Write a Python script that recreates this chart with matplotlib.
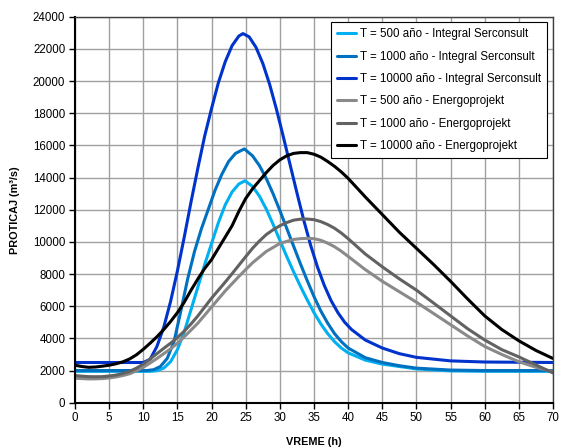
import matplotlib
matplotlib.use("Agg")
import matplotlib.pyplot as plt

plt.rcParams["font.family"] = ["Liberation Sans", "DejaVu Sans"]

# Integral Serconsult
t_is500 = [0, 11, 12, 13, 14, 15, 16, 17, 18, 19, 20, 21, 22, 23, 24, 24.9, 26, 27, 28, 29, 30, 31, 32, 33, 34, 35, 36, 37, 38, 39, 40, 42.5, 45, 47.5, 50, 55, 60, 70]
q_is500 = [1950, 1950, 1990, 2150, 2550, 3300, 4400, 5800, 7200, 8600, 9900, 11200, 12300, 13100, 13600, 13800, 13450, 12850, 12050, 11100, 10100, 9100, 8150, 7250, 6400, 5600, 4900, 4300, 3800, 3400, 3100, 2650, 2400, 2250, 2100, 1980, 1950, 1950]

t_is1000 = [0, 10.5, 11.5, 12.5, 13.5, 14.5, 15.5, 16.5, 17.5, 18.5, 19.5, 20.5, 21.5, 22.5, 23.5, 24.8, 26, 27, 28, 29, 30, 31, 32, 33, 34, 35, 36, 37, 38, 39, 40, 42.5, 45, 47.5, 50, 55, 60, 70]
q_is1000 = [2000, 2000, 2050, 2250, 2750, 3800, 5700, 7700, 9400, 10800, 12000, 13200, 14200, 15000, 15500, 15780, 15350, 14750, 13950, 13000, 11950, 10850, 9750, 8650, 7600, 6600, 5700, 4950, 4300, 3800, 3400, 2800, 2500, 2300, 2150, 2030, 2000, 2000]

t_is10000 = [0, 10, 11, 12, 13, 14, 15, 16, 17, 18, 19, 20, 21, 22, 23, 24, 24.6, 25.5, 26.5, 27.5, 28.5, 29.5, 30.5, 31.5, 32.5, 33.5, 34.5, 35.5, 36.5, 37.5, 38.5, 39.5, 40.5, 42.5, 45, 47.5, 50, 55, 60, 70]
q_is10000 = [2500, 2500, 2700, 3500, 4700, 6300, 8200, 10300, 12500, 14600, 16600, 18300, 19900, 21200, 22200, 22800, 22950, 22750, 22100, 21100, 19800, 18250, 16550, 14800, 13050, 11350, 9800, 8450, 7300, 6350, 5600, 5000, 4550, 3900, 3400, 3050, 2820, 2600, 2530, 2500]

# Energoprojekt
t_ep = [0, 1, 2, 3, 4, 5, 6, 7, 8, 9, 10, 11, 12, 13, 14, 15, 16, 17, 18, 19, 20, 21, 22, 23, 24, 25, 26, 27, 28, 29, 30, 31, 32, 33, 34, 35, 36, 37, 38, 39, 40, 42.5, 45, 47.5, 50, 52.5, 55, 57.5, 60, 62.5, 65, 67.5, 70]
q_ep500 = [1520, 1500, 1480, 1485, 1500, 1540, 1600, 1690, 1800, 1980, 2200, 2470, 2750, 3050, 3350, 3700, 4100, 4520, 4950, 5450, 5950, 6450, 6950, 7400, 7850, 8280, 8700, 9050, 9400, 9650, 9900, 10030, 10150, 10200, 10220, 10200, 10100, 9920, 9700, 9420, 9100, 8280, 7550, 6900, 6250, 5550, 4850, 4150, 3500, 3000, 2550, 2200, 1930]
q_ep1000 = [1690, 1650, 1620, 1615, 1620, 1660, 1720, 1820, 1950, 2150, 2400, 2720, 3050, 3380, 3700, 4050, 4450, 4900, 5400, 5950, 6500, 7000, 7500, 8020, 8550, 9080, 9600, 10050, 10450, 10750, 11000, 11200, 11350, 11410, 11420, 11380, 11260, 11080, 10850, 10550, 10200, 9250, 8450, 7700, 7000, 6200, 5400, 4600, 3900, 3300, 2850, 2350, 1850]
q_ep10000 = [2330, 2250, 2200, 2220, 2270, 2330, 2420, 2540, 2720, 2980, 3320, 3700, 4100, 4550, 5050, 5600, 6250, 7000, 7700, 8350, 8900, 9600, 10300, 11000, 11900, 12700, 13300, 13800, 14300, 14750, 15100, 15350, 15500, 15550, 15550, 15450, 15270, 15000, 14700, 14350, 13950, 12800, 11700, 10600, 9600, 8600, 7550, 6450, 5400, 4550, 3850, 3250, 2750]

labels = [
    "T = 500 año - Integral Serconsult",
    "T = 1000 año - Integral Serconsult",
    "T = 10000 año - Integral Serconsult",
    "T = 500 año - Energoprojekt",
    "T = 1000 año - Energoprojekt",
    "T = 10000 año - Energoprojekt",
]
colors = ["#00B0F0", "#0070C0", "#0033CC", "#8A8A8A", "#626262", "#000000"]

series = [
    (t_is500, q_is500),
    (t_is1000, q_is1000),
    (t_is10000, q_is10000),
    (t_ep, q_ep500),
    (t_ep, q_ep1000),
    (t_ep, q_ep10000),
]

fig = plt.figure(figsize=(5.61, 4.47), dpi=100)
ax = fig.add_axes([0.1337, 0.0991, 0.852, 0.8635])

for (t, q), c, lab in zip(series, colors, labels):
    ax.plot(t, q, color=c, lw=2.2, label=lab, solid_joinstyle="round", solid_capstyle="round")

ax.set_xlim(0, 70)
ax.set_ylim(0, 24000)
ax.set_xticks(range(0, 71, 5))
ax.set_yticks(range(0, 24001, 2000))
ax.grid(True, color="#A0A0A0", lw=1.0)
ax.set_axisbelow(True)
for side in ["top", "right"]:
    ax.spines[side].set_color("#404040")
    ax.spines[side].set_linewidth(1.0)
for side in ["left", "bottom"]:
    ax.spines[side].set_color("black")
    ax.spines[side].set_linewidth(1.5)
ax.tick_params(direction="out", length=4, width=1.0, labelsize=8.3, colors="black", pad=3)

ax.set_xlabel("VREME (h)", fontsize=7.8, fontweight="bold", labelpad=9)
ax.set_ylabel("PROTICAJ (m³/s)", fontsize=7.8, fontweight="bold", labelpad=9)

leg = ax.legend(loc="upper right", fontsize=8.3, handlelength=1.7, handletextpad=0.35,
                labelspacing=0.9, fancybox=False, framealpha=1, edgecolor="black",
                borderpad=0.5, borderaxespad=0.5)
leg.get_frame().set_linewidth(0.8)

fig.savefig("out.png", dpi=100)
